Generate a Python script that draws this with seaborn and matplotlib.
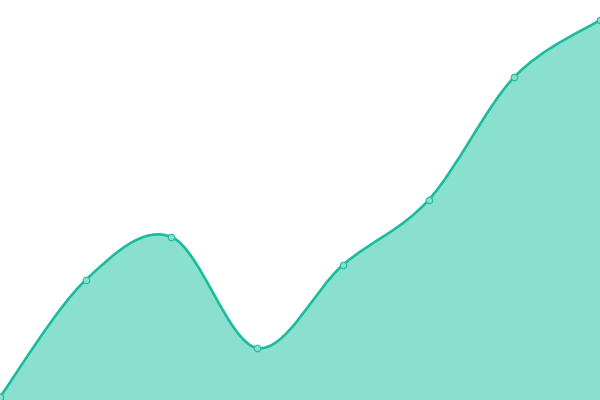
import numpy as np
import pandas as pd
import matplotlib
matplotlib.use("Agg")
import matplotlib.pyplot as plt
import seaborn as sns
from matplotlib.path import Path
from matplotlib.patches import PathPatch

# data
categories = ["A", "B", "C", "D", "E", "F", "G", "H"]
values = [3, 120, 163, 52, 135, 200, 323, 380]

line_color = "#1abc9c"
fill_color = "#8ae0cf"

sns.set_style("white")
fig = plt.figure(figsize=(6, 4), dpi=100)
ax = fig.add_axes([0, 0, 1, 1])

# catmull-rom style smoothing, ends repeat the end point
pts = np.column_stack([np.arange(len(values)), values]).astype(float)
n = len(pts)
verts = [tuple(pts[0])]
codes = [Path.MOVETO]
for i in range(n - 1):
    p_prev = pts[max(i - 1, 0)]
    p0, p1 = pts[i], pts[i + 1]
    p_next = pts[min(i + 2, n - 1)]
    c1 = p0 + (p1 - p_prev) / 6
    c2 = p1 - (p_next - p0) / 6
    verts += [tuple(c1), tuple(c2), tuple(p1)]
    codes += [Path.CURVE4] * 3

fill_verts = verts + [(n - 1, 0), (0, 0), verts[0]]
fill_codes = codes + [Path.LINETO, Path.LINETO, Path.CLOSEPOLY]
ax.add_patch(PathPatch(Path(fill_verts, fill_codes), facecolor=fill_color, edgecolor="none"))
ax.add_patch(PathPatch(Path(verts, codes), facecolor="none", edgecolor=line_color, linewidth=1.9))

df = pd.DataFrame({"x": np.arange(len(categories)), "value": values})
sns.scatterplot(data=df, x="x", y="value", ax=ax, s=22, color=fill_color,
                edgecolor=line_color, linewidth=0.8, zorder=5)

ax.set_xlim(0, len(categories) - 1)
ax.set_ylim(0, 400)
ax.axis("off")
fig.savefig("out.png", dpi=100)
